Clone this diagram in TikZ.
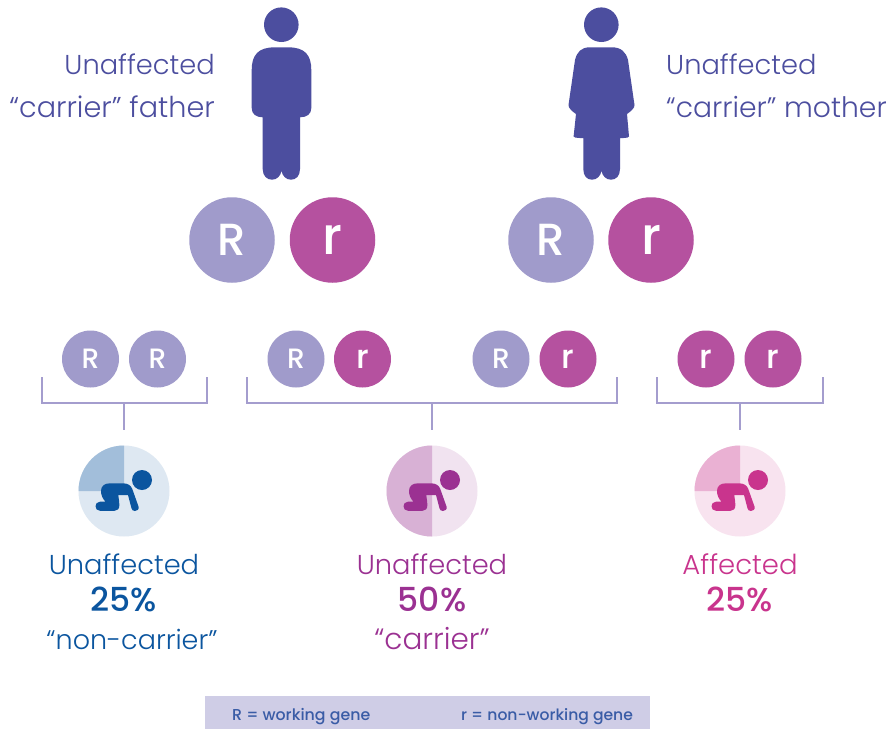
\documentclass[tikz,border=0pt]{standalone}
\usepackage{fontspec}
\setmainfont{Poppins}[UprightFont=* Light,BoldFont=* Medium]
\definecolor{indigo}{HTML}{4C4E9F}
\definecolor{lilac}{HTML}{A09BCB}
\definecolor{magen}{HTML}{B5519F}
\definecolor{brk}{HTML}{A49DCE}
\definecolor{bandc}{HTML}{CFCDE6}
\definecolor{legendc}{HTML}{3A5CA6}
\definecolor{blueD}{HTML}{0B559F}\definecolor{blueM}{HTML}{A2BEDA}\definecolor{blueL}{HTML}{DEE8F2}
\definecolor{purpD}{HTML}{9B3192}\definecolor{purpM}{HTML}{D8B1D5}\definecolor{purpL}{HTML}{F1E3F0}
\definecolor{pinkD}{HTML}{C9348D}\definecolor{pinkM}{HTML}{EAB1D3}\definecolor{pinkL}{HTML}{F8E3EF}
\newcommand{\fsz}[1]{\fontsize{#1}{#1}\selectfont}
\tikzset{
  bigR/.style={circle,fill=lilac,minimum size=85.5pt,inner sep=0pt,text=white,font=\fsz{45}\bfseries},
  bigr/.style={bigR,fill=magen,font=\fsz{52}\bfseries},
  smallR/.style={circle,fill=lilac,minimum size=57pt,inner sep=0pt,text=white,font=\fsz{28}\bfseries},
  smallr/.style={smallR,fill=magen,font=\fsz{33}\bfseries},
  bracket/.style={draw=brk,line width=1.4pt},
  lab/.style={inner sep=0pt,font=\fsz{27.3}},
  pct/.style={inner sep=0pt,font=\fsz{33}\bfseries},
  legend/.style={inner sep=0pt,text=legendc,font=\fsz{15.8}\bfseries},
}
\begin{document}
\begin{tikzpicture}[x=1pt,y=-1pt]
\useasboundingbox (0,0) rectangle (892,729);
\fill[white] (0,0) rectangle (892,729);
% father
\fill[indigo] (281.3,24.7) circle (17.3);
\fill[indigo] (251.7,70) .. controls (251.7,55) and (258,47.3) .. (275,47.3) -- (288,47.3)
  .. controls (305,47.3) and (311.3,55) .. (311.3,70) -- (311.3,108)
  .. controls (311.3,114) and (307,117.3) .. (300,117.3) -- (300,169)
  .. controls (300,176) and (296,179.7) .. (291,179.7)
  .. controls (286,179.7) and (282.5,176) .. (281.5,171)
  .. controls (280.5,176) and (277,179.7) .. (272,179.7)
  .. controls (267,179.7) and (262.7,176) .. (262.7,169) -- (262.7,117.3)
  .. controls (256,117.3) and (251.7,114) .. (251.7,108) -- cycle;
% mother
\fill[indigo] (601.3,24.7) circle (17.3);
\fill[indigo] (575,60) .. controls (577,52) and (581,47.3) .. (590,47.3) -- (612,47.3)
  .. controls (621,47.3) and (626,52) .. (628,60) -- (634.5,105)
  .. controls (635,108) and (630,112) .. (627,114) -- (629,136.5)
  .. controls (629,137.5) and (628,137.8) .. (620,138.2) -- (620,169)
  .. controls (620,176) and (616,179.7) .. (611,179.7)
  .. controls (606,179.7) and (602.5,176) .. (601.5,171)
  .. controls (600.5,176) and (597,179.7) .. (592,179.7)
  .. controls (587,179.7) and (583.3,176) .. (583.3,169) -- (583.3,138.2)
  .. controls (575,137.8) and (573.5,137.5) .. (573.6,136.5) -- (576,114)
  .. controls (573,112) and (568,108) .. (568.5,105) -- cycle;
% parent labels
\node[lab,text=indigo,anchor=base east] (fa1) at (215,74.5) {Unaffected};
\node[lab,text=indigo,anchor=base east,font=\fsz{28.7}] (fa2) at (215,117) {“carrier” father};
\node[lab,text=indigo,anchor=base west] (mo1) at (666,74.5) {Unaffected};
\node[lab,text=indigo,anchor=base west,font=\fsz{28.2}] (mo2) at (666,117) {“carrier” mother};
% parent genes
\node[bigR] (pa) at (232,240) {R};
\node[bigr] (pb) at (332.5,240) {r};
\node[bigR] (pc) at (551,240) {R};
\node[bigr] (pd) at (651,240) {r};
% child genes
\node[smallR] (c1) at (90.5,359) {R};
\node[smallR] (c2) at (157.5,359) {R};
\node[smallR] (c3) at (296,359) {R};
\node[smallr] (c4) at (362.5,359) {r};
\node[smallR] (c5) at (501,359) {R};
\node[smallr] (c6) at (568,359) {r};
\node[smallr] (c7) at (706,359) {r};
\node[smallr] (c8) at (773,359) {r};
% brackets
\foreach \n/\l/\r/\m in {a/42/207/124,b/247/617/432,c/657/823/740}{
  \coordinate (\n l) at (\l,377);
  \coordinate (\n r) at (\r,377);
  \coordinate (\n m) at (\m,403);
  \coordinate (\n s) at (\m,430);
  \draw[bracket,line join=miter] (\n l) |- (\n r |- \n m) -- (\n r);
  \draw[bracket] (\n m) -- (\n s);
}
% babies
\foreach \cx/\D/\M/\L in {124/blueD/blueM/blueL,432/purpD/purpM/purpL,740/pinkD/pinkM/pinkL}{
  \begin{scope}[shift={(\cx,491)}]
    \fill[\L] (0,0) circle (45.5);
    \ifnum\cx=432
      \fill[\M] (0,-45.5) arc[start angle=270,end angle=90,radius=45.5] -- cycle;
    \else
      \fill[\M] (0,0) -- (-45.5,0) arc[start angle=180,end angle=270,radius=45.5] -- cycle;
    \fi
    \fill[\D] (18,-11) circle (10);
    \fill[\D] (-24,10.7) -- (-18.5,10.7)
      .. controls (-21.5,7.5) and (-23,4) .. (-23,0)
      .. controls (-23,-5) and (-19.5,-7.7) .. (-14,-7.7) -- (-1,-7.7)
      .. controls (4,-7.7) and (7,-5.5) .. (8.3,-2) -- (14.5,15.5)
      .. controls (15.5,18.5) and (13,20) .. (10.8,20)
      .. controls (9,20) and (8,19) .. (7.5,17.3) -- (4,4) -- (-5.7,4)
      .. controls (-5.3,8) and (-4.6,11) .. (-4.6,14)
      .. controls (-4.6,18) and (-6.5,19.8) .. (-9.5,19.8) -- (-24,19.8)
      .. controls (-30,19.8) and (-30,10.7) .. (-24,10.7) -- cycle;
  \end{scope}
}
% child labels
\node[lab,text=blueD,anchor=base] (l1) at (124,574) {Unaffected};
\node[pct,text=blueD,anchor=base] (p1) at (124,611) {25\%};
\node[lab,text=blueD,anchor=base,font=\fsz{27}] (n1) at (132,649) {“non-carrier”};
\node[lab,text=purpD,anchor=base] (l2) at (432,574) {Unaffected};
\node[pct,text=purpD,anchor=base] (p2) at (432,611) {50\%};
\node[lab,text=purpD,anchor=base,font=\fsz{29.5}] (n2) at (432,649) {“carrier”};
\node[lab,text=pinkD,anchor=base,font=\fsz{27.5}] (l3) at (740,574) {Affected};
\node[pct,text=pinkD,anchor=base] (p3) at (740,611) {25\%};
% legend
\fill[bandc] (205,696) rectangle (650,729);
\node[legend,anchor=base west] (k1) at (232,720) {R = working gene};
\node[legend,anchor=base west,font=\fsz{15.6}\bfseries] (k2) at (461,720) {r = non-working gene};
\end{tikzpicture}
\end{document}
